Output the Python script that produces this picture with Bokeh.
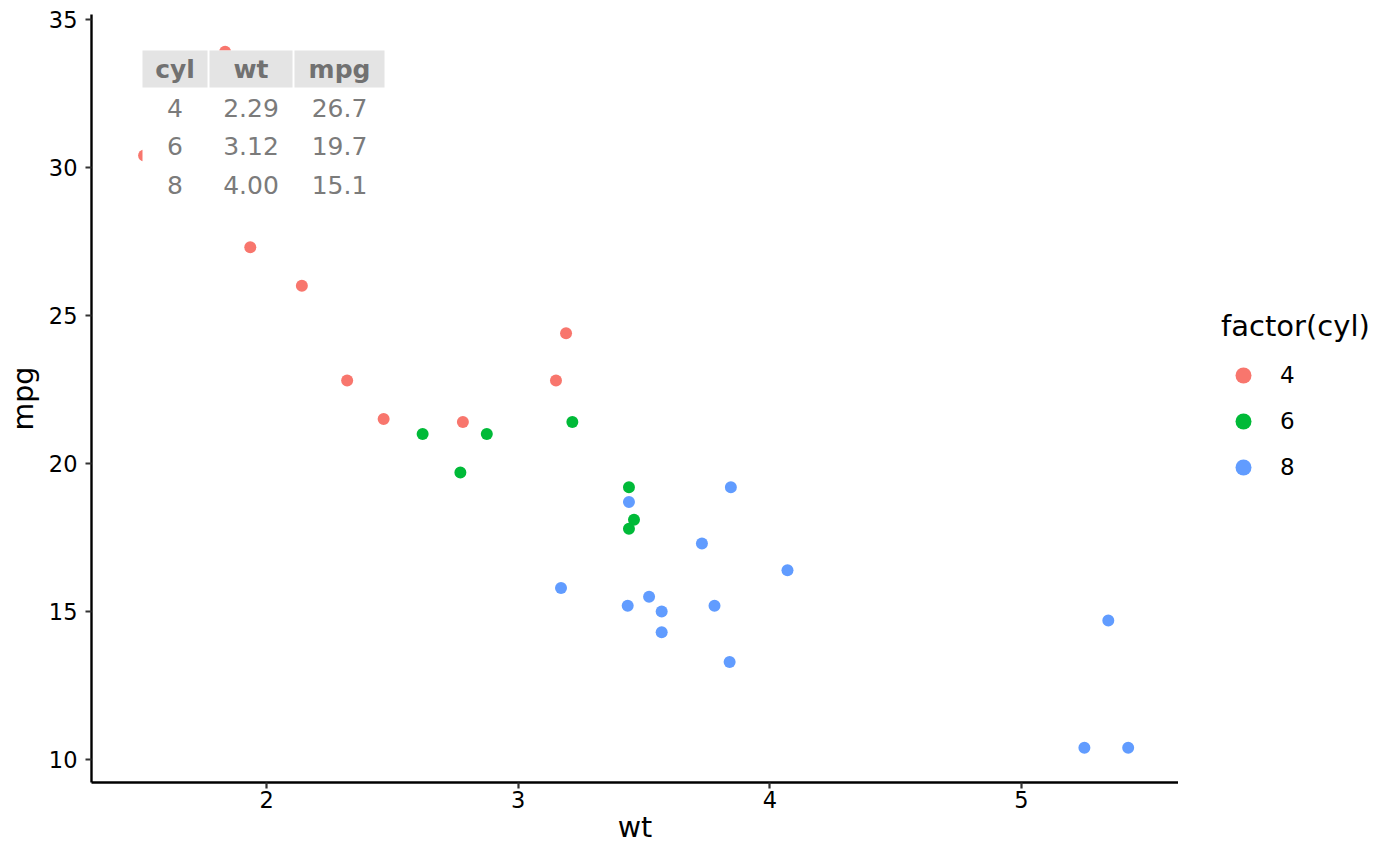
from bokeh.plotting import figure
from bokeh.layouts import row
from bokeh.models import Range1d, FixedTicker, Legend, LegendItem, ColumnDataSource
from bokeh.core.properties import value
from bokeh.embed import file_html
from bokeh.resources import INLINE

# mtcars: weight (1000 lbs), miles per gallon, cylinders
wt = [2.620, 2.875, 2.320, 3.215, 3.440, 3.460, 3.570, 3.190, 3.150, 3.440,
      3.440, 4.070, 3.730, 3.780, 5.250, 5.424, 5.345, 2.200, 1.615, 1.835,
      2.465, 3.520, 3.435, 3.840, 3.845, 1.935, 2.140, 1.513, 3.170, 2.770,
      3.570, 2.780]
mpg = [21.0, 21.0, 22.8, 21.4, 18.7, 18.1, 14.3, 24.4, 22.8, 19.2,
       17.8, 16.4, 17.3, 15.2, 10.4, 10.4, 14.7, 32.4, 30.4, 33.9,
       21.5, 15.5, 15.2, 13.3, 19.2, 27.3, 26.0, 30.4, 15.8, 19.7,
       15.0, 21.4]
cyl = [6, 6, 4, 6, 8, 6, 8, 4, 4, 6,
       6, 8, 8, 8, 8, 8, 8, 4, 4, 4,
       4, 8, 8, 8, 8, 4, 4, 4, 8, 6,
       8, 4]

groups = [4, 6, 8]
colors = ["#F8766D", "#00BA38", "#619CFF"]

# summary table shown in the corner
tbl_header = ["cyl", "wt", "mpg"]
tbl_cyl = ["4", "6", "8"]
tbl_wt = ["2.29", "3.12", "4.00"]
tbl_mpg = ["26.7", "19.7", "15.1"]

FONT = "DejaVu Sans"
X0, X1 = 1.304, 5.624
Y0, Y1 = 9.23, 35.16

# frame edges in pixels
FL, FR, FT, FB = 91, 1178, 14, 782
W, H = 1384, 850

p = figure(
    width=FR, height=H,
    x_range=Range1d(X0, X1), y_range=Range1d(Y0, Y1),
    x_axis_label="wt", y_axis_label="mpg",
    output_backend="svg", toolbar_location=None,
    min_border_left=FL, min_border_right=0,
    min_border_top=FT, min_border_bottom=H - FB,
)
p.outline_line_color = None
p.grid.visible = False
p.background_fill_color = "white"

for ax in (p.xaxis, p.yaxis):
    ax.axis_line_width = 2.4
    ax.axis_line_color = "black"
    ax.major_tick_line_width = 2.2
    ax.major_tick_line_color = "#333333"
    ax.major_tick_out = 6
    ax.major_tick_in = 0
    ax.minor_tick_line_color = None
    ax.major_label_text_font = FONT
    ax.major_label_text_font_size = "22.5px"
    ax.major_label_text_color = "black"
    ax.axis_label_text_font = FONT
    ax.axis_label_text_font_size = "28.5px"
    ax.axis_label_text_font_style = "normal"
    ax.axis_label_text_color = "black"

p.xaxis.ticker = FixedTicker(ticks=[2, 3, 4, 5])
p.yaxis.ticker = FixedTicker(ticks=[10, 15, 20, 25, 30, 35])
p.xaxis.major_label_standoff = 2
p.xaxis.axis_label_standoff = 0
p.yaxis.major_label_standoff = 8
p.yaxis.axis_label_standoff = 6

for g, c in zip(groups, colors):
    xs = [x for x, k in zip(wt, cyl) if k == g]
    ys = [y for y, k in zip(mpg, cyl) if k == g]
    p.scatter(xs, ys, size=12, fill_color=c, line_color=None)


def dx(px):
    return X0 + (px - FL) / (FR - FL) * (X1 - X0)


def dy(py):
    return Y1 - (py - FT) / (FB - FT) * (Y1 - Y0)


# table: white body, gray header cells
col_edges = [(142, 207), (209, 292), (294, 384)]
p.quad(left=dx(142), right=dx(384), top=dy(50), bottom=dy(203),
       fill_color="white", line_color=None)
p.quad(left=[dx(a) for a, b in col_edges], right=[dx(b) for a, b in col_edges],
       top=dy(50), bottom=dy(87), fill_color="#E4E4E4", line_color=None)
centers = [dx((a + b) / 2) for a, b in col_edges]
p.text(x=centers, y=[dy(69)] * 3, text=tbl_header,
       text_font=value(FONT), text_font_size="25px", text_font_style="bold",
       text_color="#717171", text_align="center", text_baseline="middle")
row_y = [dy(107), dy(145.5), dy(184)]
for col, cx in zip([tbl_cyl, tbl_wt, tbl_mpg], centers):
    src = ColumnDataSource(dict(x=[cx] * 3, y=row_y, t=col))
    p.text(x="x", y="y", text="t", source=src,
           text_font=value(FONT), text_font_size="25px",
           text_color="#7b7b7b", text_align="center", text_baseline="middle")

# legend lives in a narrow, axis-less figure to the right of the panel;
# its glyph renderers hold the group data but fall outside its 0..1 ranges
lg = figure(
    width=W - FR, height=H, x_range=Range1d(0, 1), y_range=Range1d(0, 1),
    output_backend="svg", toolbar_location=None,
    x_axis_location=None, y_axis_location=None,
    min_border_left=0, min_border_right=0, min_border_top=FT, min_border_bottom=H - FB,
)
lg.outline_line_color = None
lg.grid.visible = False
items = []
for g, c in zip(groups, colors):
    xs = [x for x, k in zip(wt, cyl) if k == g]
    ys = [y for y, k in zip(mpg, cyl) if k == g]
    r = lg.scatter(xs, ys, size=12, fill_color=c, line_color=None)
    items.append(LegendItem(label=str(g), renderers=[r]))

legend = Legend(
    items=items, title="factor(cyl)",
    location=(1221 - FR, FB - 487),
    padding=0, margin=0, spacing=6,
    glyph_width=44, glyph_height=40, label_height=40,
    label_standoff=15,
    label_text_font=FONT, label_text_font_size="23px", label_text_color="black",
    title_text_font=FONT, title_text_font_size="29px",
    title_text_font_style="normal", title_text_color="black",
    title_standoff=12,
    border_line_color=None, background_fill_alpha=0,
)
lg.add_layout(legend, "center")

layout = row(p, lg)
open("out.html", "w").write(file_html(layout, INLINE))
